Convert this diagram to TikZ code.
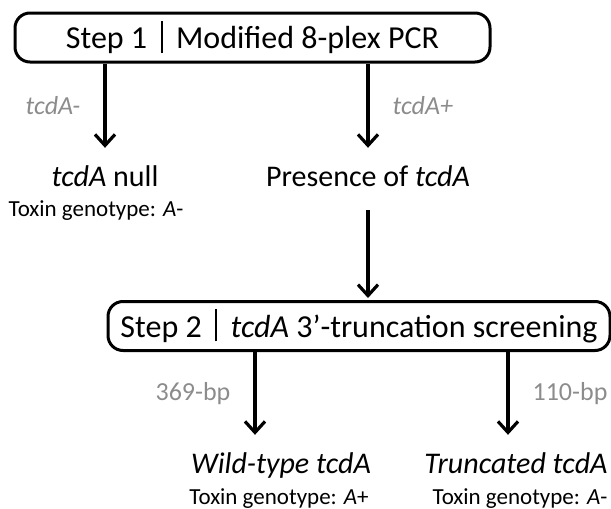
\documentclass[tikz,border=0pt]{standalone}
\usepackage{fontspec}
\setmainfont{Carlito}
\usetikzlibrary{arrows.meta}
\definecolor{lblgray}{gray}{0.55}
\newcommand{\stepbar}{\hspace{0.42em}\rule[-0.14em]{2pt}{1.0em}\hspace{0.42em}}
\newcommand{\gene}[1]{\textit{#1}}

\begin{document}
\begin{tikzpicture}[x=1pt,y=1pt,auto,
    stepbox/.style={draw,line width=3pt,rounded corners=15pt,minimum height=49pt,
                    font=\fontsize{32}{38}\selectfont},
    result/.style={anchor=base,inner xsep=0pt,inner ysep=16pt,text height=22pt,text depth=8pt,
                   font=\fontsize{30}{36}\selectfont},
    geno/.style={anchor=base,inner sep=0pt,font=\fontsize{23}{28}\selectfont},
    lbl/.style={inner xsep=23pt,text=lblgray,font=\fontsize{26}{31}\selectfont},
    flow/.style={-{Straight Barb[length=11pt,width=20pt]},line width=3.2pt}]

  \useasboundingbox (0,0) rectangle (611,-509);

  % step 1 and its outcomes
  \node[stepbox,minimum width=475pt] (S1)    at (252.5,-37.5) {Step 1\stepbar Modified 8-plex PCR};
  \node[result]                      (null)  at (105,-186)    {\gene{tcdA} null};
  \node[geno]                        (genoN) at (96,-216)     {Toxin genotype: \gene{A}-};
  \node[result]                      (pres)  at (368,-186)    {Presence of \gene{tcdA}};

  % step 2 and its outcomes
  \node[stepbox,minimum width=502pt] (S2)    at (359,-326)    {Step 2\stepbar \gene{tcdA} 3’-truncation screening};
  \node[result]                      (wild)  at (281,-473)    {\gene{Wild-type tcdA}};
  \node[geno]                        (genoW) at (279,-504)    {Toxin genotype: \gene{A}+};
  \node[result]                      (trunc) at (516,-473)    {\gene{Truncated tcdA}};
  \node[geno]                        (genoT) at (520,-504)    {Toxin genotype: \gene{A}-};

  \path[flow] (S1.south -| null) edge node[lbl,swap] {\gene{tcdA-}} (null)
              (S1.south -| pres) edge node[lbl]      {\gene{tcdA+}} (pres)
              (pres)             edge [shorten >=2pt]                (S2.north -| pres);

  \path[flow] ([xshift=-26pt]wild.north |- S2.south)  edge node[lbl,swap] {369-bp} ([xshift=-26pt]wild.north)
              ([xshift=-8pt]trunc.north |- S2.south)  edge node[lbl]      {110-bp} ([xshift=-8pt]trunc.north);
\end{tikzpicture}
\end{document}
